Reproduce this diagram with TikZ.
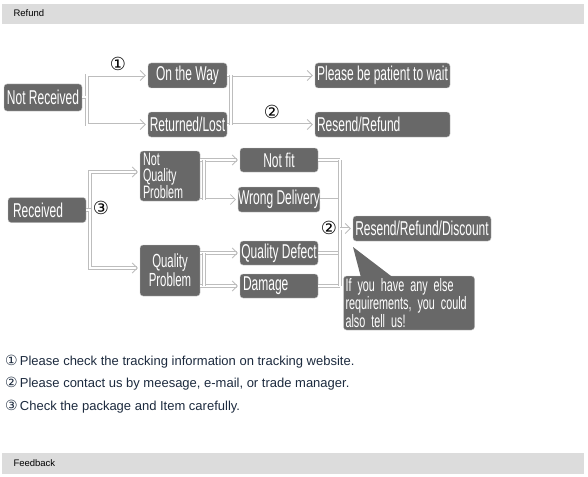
\documentclass[tikz,border=0pt]{standalone}
\usepackage{fontspec}
\setmainfont{Liberation Sans}
\newfontfamily\boxfont[FakeStretch=0.6]{Liberation Sans}
\newfontfamily\symfont{DejaVu Sans}
\newcommand\boxsize[2]{\boxfont\fontsize{#1}{#2}\selectfont}
\usepackage{tikz}
\usepackage{xcolor}
\usetikzlibrary{calc,arrows.meta}
\definecolor{bargray}{HTML}{DCDCDC}
\definecolor{boxgray}{HTML}{686868}
\definecolor{linkgray}{HTML}{BDBDBD}
\definecolor{notecolor}{HTML}{1C2A3E}

\begin{document}
\begin{tikzpicture}[x=1pt,y=-1pt]
    \tikzstyle{box}=[draw=gray!45,fill=boxgray,rounded corners=3pt,text=white,font=\boxsize{20}{16},inner sep=0pt,minimum height=25pt]
    \tikzstyle{link}=[draw=linkgray,double=white,double distance=2pt,line width=0.8pt]
    \tikzstyle{tip}=[-{Straight Barb[length=5pt,width=10pt]},shorten >=2pt]
    \tikzstyle{num}=[font=\symfont\fontsize{18}{18}\selectfont]
    \tikzstyle{note}=[anchor=west,text=notecolor,font=\fontsize{13}{13}\selectfont,inner sep=0pt]
    \useasboundingbox (0,0) rectangle (588,476);

    \fill[bargray] (2,4) rectangle (584,24);
    \node[anchor=west,font=\fontsize{9.5}{9.5}\selectfont] (0) at (10,13) {Refund};
    \fill[bargray] (2,453) rectangle (584,474);
    \node[anchor=west,font=\fontsize{9.5}{9.5}\selectfont] (1) at (10,463) {Feedback};

    \node[box,minimum width=78pt,minimum height=27pt] (11) at (43,97.5) {Not Received};
    \node[box,minimum width=79pt] (12) at (187.5,75.5) {On the Way};
    \node[box,minimum width=79pt] (13) at (187.5,124.5) {Returned/Lost};
    \node[box,minimum width=135pt] (14) at (382.5,75.5) {Please be patient to wait};
    \node[box,text width=131pt,inner xsep=2pt,align=left] (15) at (382.5,124.5) {Resend/Refund};

    \draw[link,tip] (11.east) -- ++(5,0) |- (12.west);
    \draw[link,tip] (11.east) -- ++(5,0) |- (13.west);
    \draw[link,tip] (12.east) -- (14.west);
    \draw[link,tip] (13.east) -- (15.west);
    \draw[link] ($(12.east)+(4,0)$) -- ($(13.east)+(4,0)$);
    \node[num] (16) at (118,64) {①};
    \node[num] (17) at (272,112) {②};

    \node[box,text width=68pt,inner xsep=5pt,align=left] (21) at (47,210) {Received};
    \node[box,text width=54pt,inner xsep=3pt,minimum height=50pt,align=left,font=\boxsize{18}{16}] (22) at (170,176) {Not\\Quality\\Problem};
    \node[box,minimum width=60pt,minimum height=51pt,align=center,font=\boxsize{19}{16}] (23) at (170,270.5) {Quality\\Problem};
    \node[box,minimum width=78pt,minimum height=24pt] (24) at (279,160) {Not fit};
    \node[box,minimum width=78pt] (25) at (279,199.5) {Wrong Delivery};
    \node[box,minimum width=78pt,minimum height=24pt] (26) at (279,253) {Quality Defect};
    \node[box,text width=72pt,inner xsep=3pt,minimum height=24pt,align=left] (27) at (279,286) {Damage};
    \node[box,minimum width=138pt] (28) at (422,228.5) {Resend/Refund/Discount};
    \node[box,text width=127pt,inner xsep=2pt,minimum height=54pt,align=left,font=\boxsize{18}{16}] (29) at (409,303) {If you have any else\\requirements, you could\\also tell us!};
    \fill[boxgray] (353,247) -- (393,277.5) -- (361,277.5) -- cycle;

    \draw[link,tip] (21.east) -- ++(4,0) |- ($(22.west)+(0,-4)$);
    \draw[link,tip] (21.east) -- ++(4,0) |- ($(23.west)+(0,-2.5)$);
    \draw[link,tip] (24.west -| 22.east) -- (24.west);
    \draw[link,tip] (25.west -| 22.east) -- (25.west);
    \draw[link] ($(24.west -| 22.east)+(4,0)$) -- ($(25.west -| 22.east)+(4,0)$);
    \draw[link,tip] (26.west -| 23.east) -- (26.west);
    \draw[link,tip] (27.west -| 23.east) -- (27.west);
    \draw[link] ($(26.west -| 23.east)+(4,0)$) -- ($(27.west -| 23.east)+(4,0)$);
    \coordinate (30) at (340,228.5);
    \draw[link] (24.east) -- (24.east -| 30);
    \draw[link] (25.east) -- (25.east -| 30);
    \draw[link] (26.east) -- (26.east -| 30);
    \draw[link] (27.east) -- (27.east -| 30);
    \draw[link] (24.east -| 30) -- (27.east -| 30);
    \draw[link,tip] (30) -- (28.west);
    \node[num] (31) at (101,208) {③};
    \node[num] (32) at (329,228) {②};

    \node[note] (41) at (5,362) {{\symfont\fontsize{14}{14}\selectfont ①}\,Please check the tracking information on tracking website.};
    \node[note] (42) at (5,384) {{\symfont\fontsize{14}{14}\selectfont ②}\,Please contact us by meesage, e-mail, or trade manager.};
    \node[note] (43) at (5,407) {{\symfont\fontsize{14}{14}\selectfont ③}\,Check the package and Item carefully.};
\end{tikzpicture}
\end{document}
